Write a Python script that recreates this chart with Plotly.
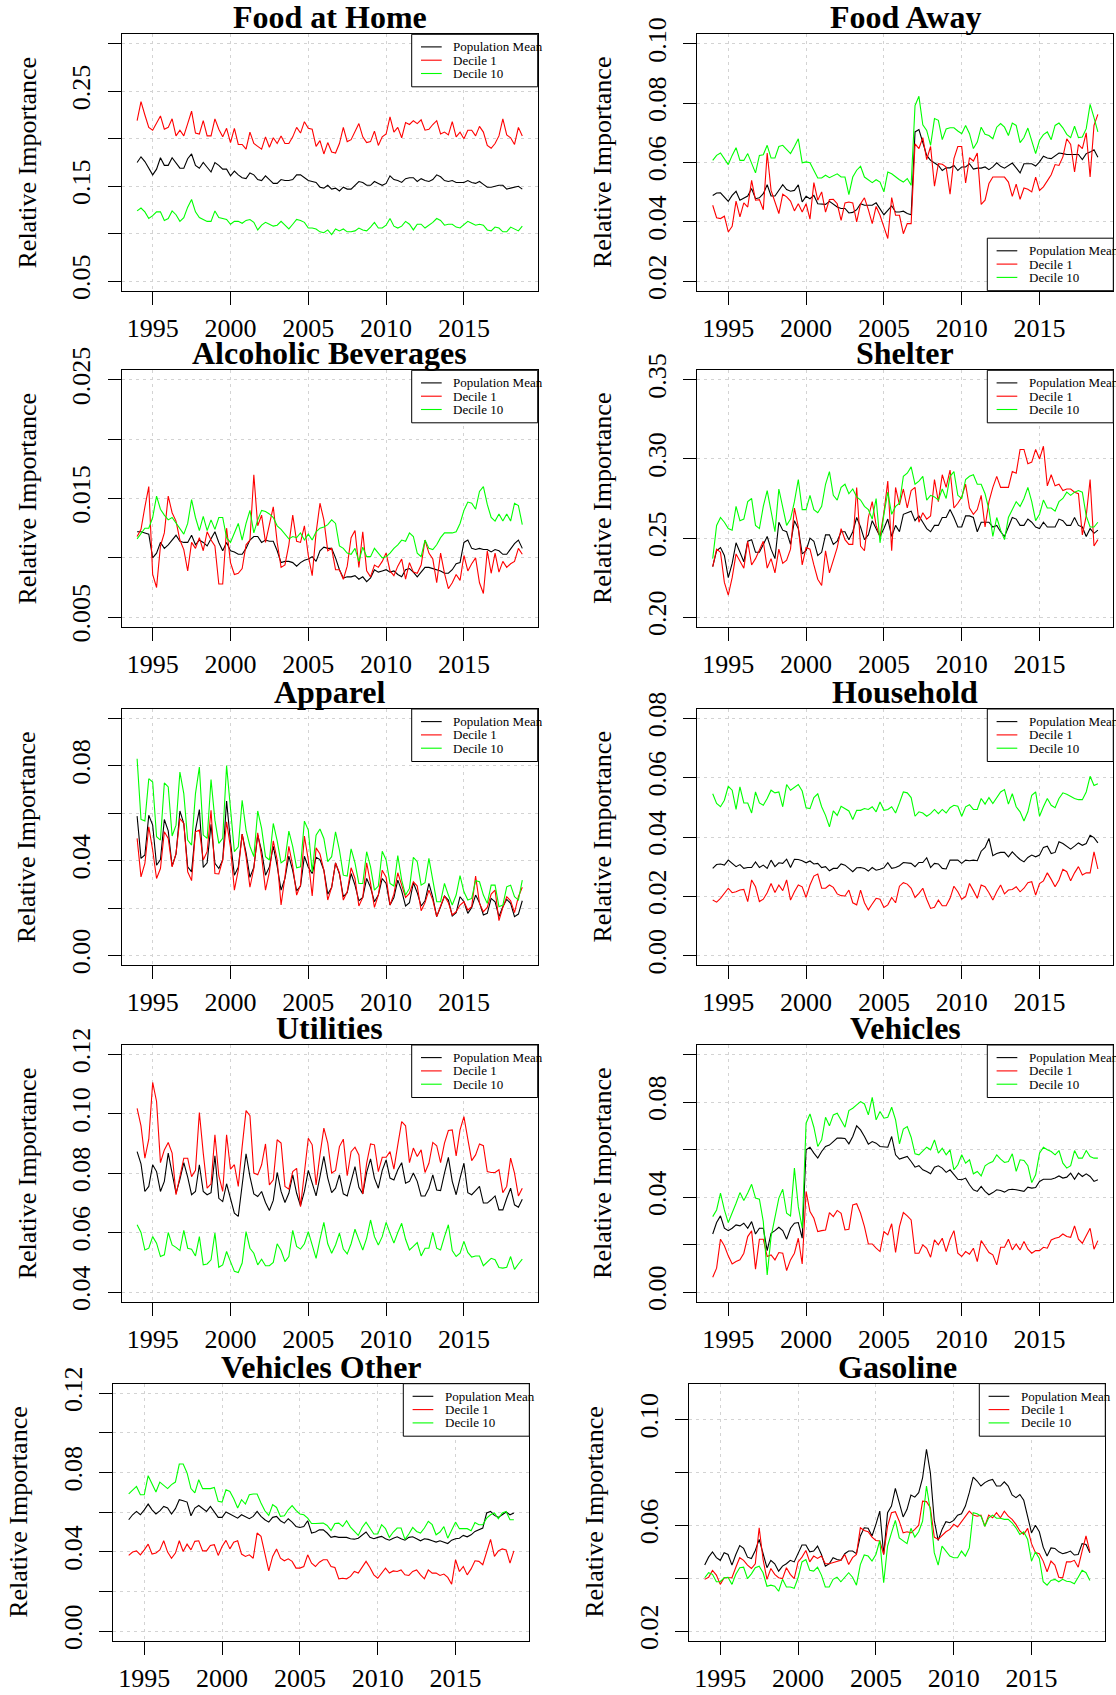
import plotly.graph_objects as go

# ---------------- data (quarterly, 1994Q1 .. 2018Q4) ----------------
years = list(range(1994, 2019))
quarters = [y + q / 4 for y in years for q in range(4)]
series_names = ["Population Mean", "Decile 1", "Decile 10"]
x_tick_years = [1995, 2000, 2005, 2010, 2015]

food_home_mean = [0.175,0.181,0.176,0.169,0.162,0.168,0.180,0.172,0.172,0.180, 0.174,0.169,0.169,0.179,0.184,0.172,0.169,0.175,0.170,0.165, 0.175,0.172,0.168,0.168,0.161,0.166,0.162,0.159,0.158,0.164, 0.162,0.157,0.156,0.161,0.157,0.153,0.153,0.157,0.156,0.156, 0.157,0.162,0.162,0.159,0.156,0.155,0.154,0.149,0.148,0.151, 0.147,0.148,0.145,0.149,0.147,0.147,0.151,0.155,0.154,0.151, 0.151,0.155,0.153,0.151,0.153,0.161,0.157,0.156,0.154,0.158, 0.159,0.159,0.155,0.158,0.156,0.155,0.157,0.162,0.160,0.156, 0.155,0.156,0.154,0.154,0.154,0.156,0.154,0.153,0.155,0.152, 0.149,0.149,0.150,0.151,0.151,0.147,0.148,0.149,0.150,0.147]
food_home_d1 = [0.219,0.239,0.225,0.212,0.209,0.217,0.224,0.210,0.212,0.221, 0.203,0.209,0.203,0.216,0.229,0.206,0.205,0.219,0.203,0.203, 0.221,0.210,0.202,0.211,0.196,0.211,0.194,0.194,0.189,0.207, 0.195,0.192,0.189,0.202,0.191,0.201,0.195,0.203,0.195,0.195, 0.202,0.212,0.206,0.218,0.211,0.210,0.192,0.198,0.184,0.196, 0.186,0.185,0.195,0.212,0.197,0.199,0.207,0.216,0.202,0.196, 0.197,0.208,0.193,0.202,0.205,0.223,0.207,0.212,0.201,0.217, 0.215,0.219,0.216,0.220,0.209,0.210,0.215,0.219,0.205,0.207, 0.204,0.218,0.202,0.207,0.200,0.209,0.209,0.203,0.213,0.207, 0.193,0.190,0.195,0.203,0.221,0.204,0.201,0.194,0.212,0.203]
food_home_d10 = [0.124,0.127,0.123,0.116,0.119,0.123,0.123,0.114,0.116,0.124, 0.120,0.113,0.117,0.128,0.136,0.123,0.117,0.115,0.113,0.113, 0.124,0.117,0.116,0.115,0.110,0.113,0.113,0.111,0.114,0.115, 0.112,0.104,0.109,0.112,0.110,0.108,0.109,0.113,0.109,0.105, 0.110,0.115,0.114,0.112,0.106,0.106,0.105,0.102,0.101,0.104, 0.099,0.105,0.103,0.105,0.102,0.102,0.103,0.106,0.104,0.103, 0.107,0.112,0.106,0.106,0.109,0.116,0.108,0.106,0.108,0.113, 0.110,0.104,0.110,0.110,0.106,0.109,0.112,0.116,0.114,0.109, 0.110,0.110,0.107,0.106,0.110,0.113,0.111,0.109,0.110,0.109, 0.104,0.103,0.107,0.106,0.102,0.102,0.107,0.105,0.103,0.108]

food_away_mean = [0.0489,0.0497,0.0498,0.0484,0.0469,0.0489,0.0503,0.0473,0.0481,0.0487, 0.0512,0.0478,0.0481,0.0495,0.0525,0.0487,0.0487,0.0504,0.0525,0.0509, 0.0503,0.0506,0.0525,0.0467,0.0486,0.0478,0.0489,0.0461,0.0459,0.0459, 0.0469,0.0458,0.0450,0.0445,0.0445,0.0430,0.0432,0.0441,0.0461,0.0456, 0.0456,0.0456,0.0464,0.0445,0.0424,0.0439,0.0454,0.0433,0.0433,0.0436, 0.0428,0.0424,0.0703,0.0711,0.0663,0.0624,0.0607,0.0598,0.0590,0.0573, 0.0582,0.0582,0.0590,0.0573,0.0585,0.0585,0.0596,0.0578,0.0581,0.0581, 0.0585,0.0576,0.0585,0.0599,0.0587,0.0581,0.0590,0.0598,0.0582,0.0565, 0.0596,0.0596,0.0596,0.0588,0.0602,0.0621,0.0615,0.0613,0.0624,0.0632, 0.0630,0.0627,0.0627,0.0627,0.0627,0.0610,0.0630,0.0635,0.0643,0.0618]
food_away_d1 = [0.0456,0.0414,0.0411,0.0419,0.0366,0.0385,0.0470,0.0417,0.0464,0.0450, 0.0540,0.0473,0.0475,0.0441,0.0632,0.0506,0.0467,0.0428,0.0493,0.0484, 0.0470,0.0437,0.0461,0.0433,0.0461,0.0409,0.0532,0.0473,0.0501,0.0433, 0.0475,0.0476,0.0461,0.0405,0.0464,0.0467,0.0464,0.0400,0.0461,0.0481, 0.0441,0.0394,0.0452,0.0422,0.0383,0.0344,0.0482,0.0422,0.0422,0.0360, 0.0394,0.0394,0.0663,0.0647,0.0684,0.0610,0.0654,0.0520,0.0596,0.0594, 0.0585,0.0493,0.0613,0.0654,0.0654,0.0531,0.0616,0.0605,0.0632,0.0459, 0.0473,0.0529,0.0551,0.0551,0.0551,0.0551,0.0534,0.0486,0.0527,0.0476, 0.0514,0.0510,0.0501,0.0551,0.0506,0.0518,0.0538,0.0559,0.0593,0.0590, 0.0619,0.0680,0.0661,0.0568,0.0660,0.0647,0.0700,0.0551,0.0725,0.0762]
food_away_d10 = [0.0607,0.0624,0.0632,0.0613,0.0593,0.0624,0.0650,0.0607,0.0607,0.0630, 0.0596,0.0565,0.0624,0.0626,0.0658,0.0615,0.0615,0.0654,0.0658,0.0644, 0.0630,0.0654,0.0680,0.0599,0.0602,0.0599,0.0574,0.0548,0.0548,0.0557, 0.0549,0.0555,0.0562,0.0551,0.0551,0.0492,0.0551,0.0574,0.0587,0.0551, 0.0540,0.0532,0.0542,0.0534,0.0501,0.0568,0.0562,0.0551,0.0542,0.0534, 0.0546,0.0523,0.0792,0.0823,0.0727,0.0708,0.0658,0.0748,0.0742,0.0677, 0.0713,0.0717,0.0717,0.0706,0.0697,0.0725,0.0697,0.0647,0.0669,0.0719, 0.0695,0.0691,0.0680,0.0719,0.0731,0.0719,0.0691,0.0733,0.0725,0.0667, 0.0684,0.0716,0.0669,0.0630,0.0675,0.0694,0.0703,0.0677,0.0725,0.0733, 0.0717,0.0695,0.0684,0.0722,0.0684,0.0686,0.0714,0.0796,0.0751,0.0703]

alcohol_mean = [0.0122,0.0122,0.0121,0.0120,0.0100,0.0104,0.0113,0.0108,0.0111,0.0115, 0.0119,0.0114,0.0113,0.0113,0.0119,0.0111,0.0115,0.0113,0.0110,0.0116, 0.0122,0.0113,0.0106,0.0113,0.0106,0.0105,0.0103,0.0103,0.0108,0.0115, 0.0118,0.0118,0.0113,0.0115,0.0114,0.0114,0.0106,0.0096,0.0097,0.0097, 0.0096,0.0093,0.0096,0.0098,0.0099,0.0101,0.0097,0.0106,0.0109,0.0108, 0.0108,0.0100,0.0090,0.0083,0.0084,0.0084,0.0085,0.0082,0.0084,0.0080, 0.0083,0.0090,0.0088,0.0089,0.0090,0.0088,0.0089,0.0086,0.0084,0.0090, 0.0091,0.0088,0.0084,0.0088,0.0092,0.0092,0.0091,0.0090,0.0089,0.0087, 0.0087,0.0090,0.0095,0.0096,0.0113,0.0115,0.0108,0.0107,0.0108,0.0107, 0.0107,0.0105,0.0107,0.0106,0.0103,0.0103,0.0107,0.0112,0.0115,0.0108]
alcohol_d1 = [0.0118,0.0124,0.0143,0.0160,0.0086,0.0075,0.0110,0.0121,0.0152,0.0138, 0.0131,0.0115,0.0107,0.0089,0.0113,0.0108,0.0117,0.0106,0.0122,0.0115, 0.0110,0.0078,0.0078,0.0125,0.0096,0.0086,0.0087,0.0091,0.0111,0.0115, 0.0170,0.0127,0.0136,0.0113,0.0128,0.0143,0.0113,0.0092,0.0094,0.0111, 0.0136,0.0114,0.0113,0.0127,0.0102,0.0085,0.0121,0.0146,0.0132,0.0106, 0.0108,0.0090,0.0090,0.0082,0.0093,0.0117,0.0123,0.0092,0.0122,0.0089, 0.0084,0.0094,0.0092,0.0097,0.0104,0.0089,0.0085,0.0093,0.0099,0.0082, 0.0096,0.0088,0.0087,0.0094,0.0115,0.0104,0.0099,0.0079,0.0104,0.0087, 0.0074,0.0079,0.0086,0.0081,0.0102,0.0089,0.0095,0.0100,0.0079,0.0070, 0.0106,0.0087,0.0104,0.0088,0.0097,0.0092,0.0095,0.0097,0.0108,0.0103]
alcohol_d10 = [0.0116,0.0121,0.0125,0.0125,0.0134,0.0152,0.0141,0.0136,0.0132,0.0134, 0.0129,0.0124,0.0120,0.0129,0.0149,0.0134,0.0123,0.0135,0.0123,0.0132, 0.0124,0.0134,0.0134,0.0117,0.0113,0.0121,0.0129,0.0115,0.0129,0.0140, 0.0121,0.0132,0.0140,0.0139,0.0137,0.0134,0.0127,0.0124,0.0120,0.0116, 0.0118,0.0117,0.0121,0.0115,0.0120,0.0115,0.0122,0.0125,0.0126,0.0128, 0.0132,0.0129,0.0110,0.0108,0.0104,0.0103,0.0108,0.0097,0.0109,0.0101, 0.0101,0.0108,0.0104,0.0100,0.0101,0.0104,0.0108,0.0111,0.0115,0.0114, 0.0121,0.0118,0.0104,0.0101,0.0115,0.0108,0.0107,0.0111,0.0117,0.0121, 0.0121,0.0121,0.0122,0.0129,0.0140,0.0147,0.0146,0.0141,0.0156,0.0160, 0.0145,0.0134,0.0131,0.0137,0.0131,0.0137,0.0131,0.0146,0.0144,0.0128]

shelter_mean = [0.232,0.242,0.244,0.239,0.225,0.234,0.247,0.241,0.235,0.248, 0.249,0.241,0.241,0.246,0.251,0.243,0.237,0.260,0.255,0.254, 0.246,0.261,0.256,0.240,0.242,0.250,0.248,0.239,0.241,0.252, 0.252,0.246,0.248,0.254,0.254,0.249,0.254,0.263,0.257,0.249, 0.252,0.261,0.256,0.251,0.256,0.262,0.251,0.258,0.254,0.265, 0.266,0.267,0.261,0.264,0.260,0.256,0.254,0.258,0.258,0.263, 0.263,0.268,0.263,0.257,0.257,0.264,0.264,0.263,0.254,0.260, 0.260,0.260,0.257,0.258,0.254,0.251,0.257,0.263,0.262,0.258, 0.258,0.262,0.260,0.257,0.256,0.260,0.257,0.257,0.257,0.262, 0.261,0.258,0.258,0.263,0.258,0.257,0.251,0.256,0.253,0.255]
shelter_d1 = [0.232,0.243,0.241,0.222,0.214,0.225,0.240,0.235,0.231,0.248, 0.233,0.237,0.242,0.248,0.231,0.237,0.228,0.243,0.234,0.236, 0.243,0.269,0.257,0.233,0.244,0.243,0.233,0.224,0.220,0.242, 0.228,0.236,0.244,0.256,0.249,0.246,0.246,0.282,0.245,0.242, 0.263,0.273,0.258,0.251,0.266,0.286,0.242,0.282,0.271,0.281, 0.269,0.280,0.282,0.260,0.266,0.262,0.264,0.287,0.273,0.290, 0.282,0.293,0.269,0.272,0.276,0.284,0.269,0.265,0.268,0.277, 0.257,0.273,0.282,0.289,0.282,0.282,0.282,0.292,0.291,0.306, 0.306,0.297,0.298,0.306,0.300,0.308,0.283,0.290,0.283,0.284, 0.280,0.281,0.281,0.279,0.278,0.252,0.264,0.287,0.245,0.249]
shelter_d10 = [0.237,0.258,0.263,0.260,0.256,0.255,0.270,0.261,0.262,0.273, 0.275,0.258,0.256,0.270,0.280,0.267,0.254,0.281,0.269,0.258, 0.262,0.273,0.287,0.268,0.268,0.277,0.268,0.266,0.270,0.284, 0.292,0.277,0.274,0.282,0.284,0.278,0.281,0.276,0.274,0.270, 0.268,0.262,0.275,0.247,0.265,0.279,0.265,0.270,0.272,0.289, 0.291,0.295,0.284,0.286,0.289,0.274,0.277,0.276,0.274,0.281, 0.275,0.289,0.292,0.277,0.275,0.287,0.289,0.290,0.284,0.284, 0.278,0.268,0.251,0.263,0.255,0.249,0.263,0.268,0.273,0.270, 0.275,0.282,0.273,0.261,0.265,0.274,0.269,0.269,0.267,0.273, 0.275,0.279,0.277,0.279,0.280,0.279,0.264,0.257,0.257,0.260]

apparel_mean = [0.0588,0.0410,0.0424,0.0592,0.0550,0.0381,0.0405,0.0574,0.0526,0.0377, 0.0428,0.0610,0.0557,0.0374,0.0353,0.0529,0.0616,0.0372,0.0391,0.0554, 0.0389,0.0367,0.0403,0.0652,0.0480,0.0339,0.0372,0.0512,0.0433,0.0330, 0.0372,0.0508,0.0442,0.0339,0.0374,0.0461,0.0377,0.0276,0.0325,0.0419, 0.0358,0.0273,0.0293,0.0419,0.0372,0.0346,0.0414,0.0405,0.0360,0.0259, 0.0287,0.0391,0.0344,0.0248,0.0265,0.0346,0.0297,0.0231,0.0245,0.0325, 0.0287,0.0227,0.0255,0.0325,0.0304,0.0213,0.0245,0.0318,0.0273,0.0209, 0.0223,0.0307,0.0265,0.0209,0.0231,0.0304,0.0245,0.0164,0.0206,0.0251, 0.0234,0.0167,0.0181,0.0248,0.0227,0.0178,0.0203,0.0255,0.0223,0.0171, 0.0178,0.0241,0.0227,0.0164,0.0206,0.0237,0.0220,0.0164,0.0175,0.0231]
apparel_d1 = [0.0494,0.0332,0.0389,0.0543,0.0445,0.0325,0.0367,0.0522,0.0494,0.0374, 0.0431,0.0578,0.0557,0.0353,0.0316,0.0522,0.0529,0.0403,0.0438,0.0613, 0.0346,0.0344,0.0403,0.0564,0.0456,0.0276,0.0360,0.0512,0.0417,0.0288, 0.0367,0.0518,0.0417,0.0276,0.0353,0.0484,0.0403,0.0213,0.0332,0.0461, 0.0377,0.0255,0.0297,0.0504,0.0403,0.0251,0.0454,0.0428,0.0360,0.0234, 0.0288,0.0391,0.0349,0.0234,0.0269,0.0370,0.0325,0.0209,0.0245,0.0391, 0.0304,0.0203,0.0255,0.0360,0.0330,0.0213,0.0259,0.0349,0.0297,0.0245, 0.0262,0.0311,0.0293,0.0189,0.0223,0.0276,0.0234,0.0164,0.0209,0.0251, 0.0223,0.0171,0.0185,0.0213,0.0227,0.0192,0.0206,0.0335,0.0220,0.0185, 0.0203,0.0259,0.0276,0.0147,0.0203,0.0248,0.0231,0.0181,0.0248,0.0288]
apparel_d10 = [0.0830,0.0574,0.0568,0.0746,0.0732,0.0501,0.0487,0.0728,0.0711,0.0504, 0.0550,0.0774,0.0683,0.0487,0.0466,0.0683,0.0795,0.0508,0.0494,0.0742, 0.0571,0.0473,0.0494,0.0801,0.0620,0.0438,0.0459,0.0655,0.0529,0.0461, 0.0417,0.0610,0.0536,0.0417,0.0403,0.0557,0.0484,0.0391,0.0403,0.0525, 0.0459,0.0370,0.0374,0.0567,0.0529,0.0353,0.0508,0.0534,0.0494,0.0396, 0.0417,0.0522,0.0445,0.0339,0.0335,0.0450,0.0391,0.0304,0.0304,0.0438, 0.0374,0.0276,0.0293,0.0440,0.0403,0.0304,0.0293,0.0422,0.0318,0.0255, 0.0283,0.0414,0.0396,0.0297,0.0307,0.0410,0.0318,0.0227,0.0227,0.0304, 0.0255,0.0213,0.0255,0.0337,0.0269,0.0234,0.0241,0.0316,0.0311,0.0255, 0.0220,0.0297,0.0297,0.0206,0.0213,0.0290,0.0297,0.0248,0.0234,0.0318]

household_mean = [0.0294,0.0307,0.0309,0.0305,0.0322,0.0311,0.0300,0.0307,0.0294,0.0297, 0.0297,0.0316,0.0297,0.0305,0.0294,0.0322,0.0300,0.0313,0.0311,0.0325, 0.0297,0.0325,0.0324,0.0320,0.0313,0.0319,0.0309,0.0311,0.0297,0.0300, 0.0286,0.0294,0.0294,0.0309,0.0305,0.0294,0.0283,0.0296,0.0297,0.0294, 0.0285,0.0297,0.0288,0.0291,0.0296,0.0313,0.0294,0.0297,0.0303,0.0314, 0.0313,0.0311,0.0300,0.0314,0.0314,0.0330,0.0297,0.0311,0.0309,0.0294, 0.0292,0.0322,0.0322,0.0322,0.0311,0.0322,0.0320,0.0322,0.0320,0.0352, 0.0365,0.0395,0.0337,0.0344,0.0348,0.0348,0.0333,0.0350,0.0336,0.0324, 0.0316,0.0331,0.0339,0.0333,0.0339,0.0365,0.0369,0.0344,0.0348,0.0384, 0.0378,0.0369,0.0359,0.0369,0.0380,0.0372,0.0378,0.0406,0.0398,0.0380]
household_d1 = [0.0187,0.0180,0.0193,0.0212,0.0227,0.0212,0.0215,0.0221,0.0223,0.0182, 0.0255,0.0232,0.0182,0.0190,0.0212,0.0243,0.0213,0.0238,0.0219,0.0255, 0.0187,0.0215,0.0238,0.0232,0.0196,0.0238,0.0268,0.0275,0.0227,0.0227, 0.0238,0.0230,0.0208,0.0202,0.0201,0.0221,0.0178,0.0171,0.0221,0.0178, 0.0154,0.0174,0.0193,0.0190,0.0162,0.0171,0.0196,0.0178,0.0234,0.0246, 0.0241,0.0227,0.0196,0.0210,0.0227,0.0190,0.0159,0.0163,0.0187,0.0168, 0.0168,0.0193,0.0234,0.0215,0.0190,0.0199,0.0243,0.0219,0.0193,0.0238, 0.0232,0.0212,0.0187,0.0215,0.0238,0.0208,0.0221,0.0223,0.0232,0.0215, 0.0227,0.0246,0.0249,0.0204,0.0243,0.0252,0.0279,0.0257,0.0232,0.0255, 0.0291,0.0283,0.0252,0.0279,0.0300,0.0272,0.0279,0.0279,0.0350,0.0292]
household_d10 = [0.0546,0.0513,0.0502,0.0524,0.0571,0.0558,0.0493,0.0569,0.0515,0.0515, 0.0481,0.0552,0.0515,0.0507,0.0530,0.0558,0.0549,0.0552,0.0502,0.0577, 0.0558,0.0567,0.0577,0.0555,0.0499,0.0496,0.0533,0.0546,0.0502,0.0473, 0.0434,0.0488,0.0473,0.0504,0.0496,0.0488,0.0459,0.0490,0.0490,0.0496, 0.0493,0.0502,0.0485,0.0518,0.0490,0.0493,0.0502,0.0481,0.0515,0.0552, 0.0549,0.0533,0.0470,0.0485,0.0481,0.0470,0.0479,0.0493,0.0479,0.0493, 0.0481,0.0499,0.0507,0.0504,0.0470,0.0502,0.0509,0.0493,0.0493,0.0530, 0.0511,0.0533,0.0513,0.0533,0.0552,0.0560,0.0511,0.0546,0.0502,0.0485, 0.0454,0.0485,0.0541,0.0552,0.0470,0.0502,0.0530,0.0507,0.0499,0.0530, 0.0549,0.0544,0.0537,0.0530,0.0526,0.0526,0.0552,0.0605,0.0574,0.0580]

utilities_mean = [0.0873,0.0832,0.0739,0.0756,0.0829,0.0806,0.0739,0.0773,0.0868,0.0801, 0.0733,0.0780,0.0836,0.0787,0.0728,0.0739,0.0829,0.0739,0.0728,0.0735, 0.0859,0.0716,0.0705,0.0765,0.0713,0.0666,0.0655,0.0756,0.0866,0.0789, 0.0731,0.0722,0.0739,0.0702,0.0675,0.0709,0.0803,0.0739,0.0702,0.0733, 0.0795,0.0733,0.0691,0.0739,0.0810,0.0767,0.0724,0.0789,0.0857,0.0784, 0.0735,0.0750,0.0795,0.0731,0.0724,0.0773,0.0823,0.0753,0.0731,0.0803, 0.0849,0.0784,0.0750,0.0810,0.0845,0.0784,0.0778,0.0812,0.0836,0.0767, 0.0773,0.0801,0.0773,0.0724,0.0724,0.0750,0.0795,0.0744,0.0742,0.0801, 0.0854,0.0773,0.0728,0.0784,0.0834,0.0735,0.0728,0.0742,0.0756,0.0700, 0.0700,0.0711,0.0724,0.0677,0.0677,0.0716,0.0750,0.0694,0.0686,0.0713]
utilities_d1 = [0.1019,0.0960,0.0851,0.0915,0.1106,0.1042,0.0836,0.0879,0.0904,0.0868, 0.0728,0.0792,0.0851,0.0851,0.0789,0.0810,0.1005,0.0868,0.0750,0.0765, 0.0930,0.0792,0.0739,0.0930,0.0814,0.0829,0.0756,0.0890,0.1011,0.0994, 0.0801,0.0795,0.0829,0.0899,0.0761,0.0778,0.0913,0.0902,0.0756,0.0747, 0.0806,0.0817,0.0688,0.0803,0.0918,0.0896,0.0761,0.0862,0.0952,0.0902, 0.0801,0.0810,0.0890,0.0915,0.0792,0.0873,0.0888,0.0862,0.0731,0.0834, 0.0899,0.0896,0.0806,0.0854,0.0854,0.0873,0.0814,0.0896,0.0974,0.0960, 0.0836,0.0885,0.0857,0.0879,0.0803,0.0834,0.0904,0.0893,0.0836,0.0902, 0.0944,0.0946,0.0859,0.0946,0.0991,0.0915,0.0843,0.0862,0.0899,0.0893, 0.0806,0.0803,0.0803,0.0812,0.0735,0.0756,0.0851,0.0801,0.0724,0.0750]
utilities_d10 = [0.0627,0.0601,0.0542,0.0548,0.0587,0.0565,0.0520,0.0526,0.0601,0.0559, 0.0551,0.0540,0.0608,0.0548,0.0545,0.0522,0.0587,0.0492,0.0495,0.0509, 0.0599,0.0484,0.0492,0.0537,0.0503,0.0470,0.0466,0.0498,0.0604,0.0548, 0.0531,0.0492,0.0511,0.0489,0.0489,0.0500,0.0563,0.0540,0.0503,0.0520, 0.0608,0.0554,0.0545,0.0563,0.0604,0.0559,0.0514,0.0578,0.0635,0.0563, 0.0531,0.0559,0.0599,0.0545,0.0529,0.0563,0.0612,0.0576,0.0542,0.0582, 0.0643,0.0587,0.0559,0.0587,0.0635,0.0599,0.0565,0.0601,0.0632,0.0578, 0.0542,0.0554,0.0567,0.0522,0.0548,0.0548,0.0601,0.0548,0.0542,0.0587, 0.0627,0.0540,0.0520,0.0531,0.0571,0.0534,0.0518,0.0522,0.0522,0.0489, 0.0503,0.0514,0.0509,0.0483,0.0481,0.0484,0.0520,0.0477,0.0495,0.0511]

vehicles_mean = [0.0245,0.0293,0.0321,0.0269,0.0259,0.0269,0.0283,0.0279,0.0290,0.0269, 0.0297,0.0245,0.0269,0.0269,0.0175,0.0248,0.0259,0.0273,0.0259,0.0223, 0.0269,0.0290,0.0293,0.0227,0.0599,0.0610,0.0585,0.0564,0.0592,0.0613, 0.0619,0.0633,0.0648,0.0648,0.0647,0.0624,0.0655,0.0700,0.0683,0.0655, 0.0623,0.0634,0.0627,0.0613,0.0613,0.0610,0.0655,0.0578,0.0560,0.0564, 0.0571,0.0550,0.0526,0.0532,0.0515,0.0508,0.0498,0.0526,0.0532,0.0522, 0.0504,0.0515,0.0494,0.0475,0.0473,0.0480,0.0452,0.0431,0.0424,0.0445, 0.0424,0.0410,0.0419,0.0431,0.0428,0.0421,0.0431,0.0433,0.0431,0.0428, 0.0424,0.0442,0.0438,0.0440,0.0466,0.0475,0.0475,0.0475,0.0480,0.0489, 0.0480,0.0484,0.0501,0.0475,0.0501,0.0487,0.0498,0.0487,0.0466,0.0473]
vehicles_d1 = [0.0063,0.0101,0.0223,0.0195,0.0153,0.0119,0.0129,0.0136,0.0164,0.0234, 0.0258,0.0097,0.0223,0.0223,0.0150,0.0157,0.0136,0.0167,0.0164,0.0091, 0.0136,0.0164,0.0227,0.0119,0.0424,0.0339,0.0311,0.0255,0.0259,0.0262, 0.0335,0.0318,0.0344,0.0332,0.0262,0.0265,0.0367,0.0372,0.0332,0.0276, 0.0203,0.0203,0.0185,0.0171,0.0255,0.0241,0.0288,0.0167,0.0276,0.0335, 0.0321,0.0304,0.0164,0.0164,0.0199,0.0185,0.0147,0.0220,0.0199,0.0227, 0.0171,0.0223,0.0259,0.0164,0.0150,0.0171,0.0160,0.0185,0.0129,0.0217, 0.0192,0.0167,0.0157,0.0115,0.0189,0.0189,0.0223,0.0178,0.0203,0.0178, 0.0213,0.0181,0.0164,0.0175,0.0175,0.0189,0.0185,0.0220,0.0227,0.0231, 0.0245,0.0234,0.0231,0.0279,0.0223,0.0206,0.0237,0.0269,0.0181,0.0217]
vehicles_d10 = [0.0318,0.0346,0.0417,0.0346,0.0293,0.0330,0.0374,0.0419,0.0386,0.0417, 0.0454,0.0396,0.0391,0.0297,0.0073,0.0234,0.0318,0.0396,0.0433,0.0332, 0.0321,0.0522,0.0360,0.0269,0.0711,0.0750,0.0694,0.0613,0.0641,0.0736, 0.0700,0.0746,0.0753,0.0725,0.0694,0.0764,0.0774,0.0788,0.0802,0.0792, 0.0746,0.0820,0.0725,0.0760,0.0732,0.0736,0.0778,0.0725,0.0624,0.0686, 0.0697,0.0652,0.0582,0.0578,0.0596,0.0610,0.0599,0.0641,0.0585,0.0606, 0.0578,0.0599,0.0515,0.0536,0.0578,0.0543,0.0557,0.0498,0.0508,0.0489, 0.0532,0.0543,0.0550,0.0578,0.0560,0.0546,0.0550,0.0582,0.0508,0.0557, 0.0554,0.0532,0.0461,0.0494,0.0585,0.0610,0.0599,0.0592,0.0578,0.0596, 0.0543,0.0522,0.0532,0.0596,0.0564,0.0564,0.0596,0.0571,0.0564,0.0564]

veh_other_mean = [0.0562,0.0587,0.0604,0.0587,0.0612,0.0641,0.0612,0.0591,0.0607,0.0629, 0.0621,0.0591,0.0618,0.0663,0.0658,0.0651,0.0582,0.0621,0.0634,0.0618, 0.0604,0.0629,0.0604,0.0574,0.0574,0.0601,0.0591,0.0579,0.0570,0.0587, 0.0579,0.0567,0.0579,0.0604,0.0579,0.0562,0.0550,0.0574,0.0579,0.0557, 0.0545,0.0567,0.0550,0.0528,0.0523,0.0528,0.0557,0.0495,0.0500,0.0511, 0.0511,0.0495,0.0473,0.0478,0.0473,0.0473,0.0473,0.0466,0.0464,0.0469, 0.0483,0.0500,0.0473,0.0466,0.0473,0.0478,0.0466,0.0459,0.0469,0.0476, 0.0466,0.0459,0.0473,0.0476,0.0466,0.0456,0.0466,0.0463,0.0456,0.0449, 0.0456,0.0449,0.0442,0.0459,0.0466,0.0469,0.0483,0.0476,0.0486,0.0503, 0.0510,0.0520,0.0596,0.0604,0.0584,0.0574,0.0587,0.0601,0.0587,0.0596]
veh_other_d1 = [0.0382,0.0399,0.0405,0.0385,0.0410,0.0439,0.0389,0.0394,0.0410,0.0456, 0.0399,0.0368,0.0394,0.0456,0.0402,0.0439,0.0410,0.0453,0.0456,0.0405, 0.0405,0.0432,0.0436,0.0382,0.0427,0.0458,0.0415,0.0449,0.0456,0.0389, 0.0377,0.0385,0.0368,0.0495,0.0478,0.0394,0.0304,0.0377,0.0415,0.0368, 0.0355,0.0365,0.0352,0.0318,0.0318,0.0326,0.0385,0.0343,0.0326,0.0348, 0.0360,0.0360,0.0326,0.0321,0.0264,0.0267,0.0264,0.0276,0.0301,0.0293, 0.0326,0.0352,0.0321,0.0284,0.0267,0.0293,0.0318,0.0293,0.0304,0.0301, 0.0309,0.0284,0.0281,0.0301,0.0309,0.0284,0.0264,0.0309,0.0293,0.0293, 0.0281,0.0288,0.0271,0.0237,0.0360,0.0301,0.0326,0.0284,0.0314,0.0355, 0.0352,0.0335,0.0394,0.0463,0.0377,0.0405,0.0415,0.0410,0.0343,0.0405]
veh_other_d10 = [0.0692,0.0713,0.0730,0.0688,0.0688,0.0784,0.0742,0.0702,0.0752,0.0735, 0.0719,0.0739,0.0752,0.0843,0.0843,0.0798,0.0719,0.0697,0.0764,0.0719, 0.0719,0.0719,0.0725,0.0655,0.0651,0.0713,0.0705,0.0668,0.0621,0.0663, 0.0641,0.0688,0.0692,0.0692,0.0646,0.0607,0.0584,0.0638,0.0624,0.0579, 0.0582,0.0612,0.0633,0.0609,0.0591,0.0587,0.0570,0.0543,0.0543,0.0543, 0.0545,0.0533,0.0508,0.0543,0.0545,0.0528,0.0557,0.0525,0.0506,0.0483, 0.0523,0.0550,0.0520,0.0490,0.0490,0.0537,0.0517,0.0473,0.0500,0.0520, 0.0520,0.0463,0.0490,0.0523,0.0503,0.0495,0.0520,0.0554,0.0537,0.0486, 0.0500,0.0527,0.0469,0.0511,0.0550,0.0517,0.0517,0.0517,0.0506,0.0548, 0.0537,0.0537,0.0570,0.0587,0.0596,0.0567,0.0596,0.0604,0.0562,0.0562]

gasoline_mean = [0.0450,0.0480,0.0500,0.0478,0.0468,0.0497,0.0490,0.0450,0.0490,0.0524, 0.0513,0.0480,0.0475,0.0505,0.0547,0.0490,0.0440,0.0468,0.0455,0.0427, 0.0446,0.0455,0.0468,0.0462,0.0497,0.0526,0.0526,0.0500,0.0503,0.0522, 0.0490,0.0446,0.0455,0.0478,0.0471,0.0468,0.0493,0.0503,0.0503,0.0493, 0.0560,0.0591,0.0589,0.0560,0.0604,0.0654,0.0490,0.0648,0.0673,0.0740, 0.0686,0.0632,0.0661,0.0715,0.0707,0.0724,0.0780,0.0888,0.0799,0.0619, 0.0543,0.0585,0.0614,0.0610,0.0619,0.0639,0.0644,0.0673,0.0724,0.0783, 0.0768,0.0749,0.0762,0.0770,0.0774,0.0749,0.0749,0.0765,0.0749,0.0715, 0.0705,0.0717,0.0695,0.0629,0.0572,0.0601,0.0576,0.0518,0.0484,0.0515, 0.0513,0.0500,0.0493,0.0497,0.0503,0.0488,0.0490,0.0531,0.0528,0.0497]
gasoline_d1 = [0.0396,0.0404,0.0430,0.0412,0.0377,0.0402,0.0402,0.0402,0.0442,0.0478, 0.0468,0.0450,0.0437,0.0455,0.0591,0.0471,0.0396,0.0437,0.0415,0.0402, 0.0399,0.0440,0.0415,0.0399,0.0462,0.0480,0.0505,0.0462,0.0484,0.0475, 0.0484,0.0455,0.0455,0.0459,0.0462,0.0468,0.0490,0.0452,0.0478,0.0490, 0.0591,0.0581,0.0576,0.0556,0.0543,0.0541,0.0490,0.0597,0.0648,0.0652, 0.0616,0.0572,0.0576,0.0572,0.0585,0.0601,0.0692,0.0690,0.0667,0.0556, 0.0547,0.0563,0.0576,0.0585,0.0604,0.0594,0.0614,0.0635,0.0654,0.0639, 0.0635,0.0639,0.0597,0.0639,0.0629,0.0648,0.0629,0.0654,0.0635,0.0623, 0.0604,0.0579,0.0566,0.0589,0.0531,0.0497,0.0493,0.0465,0.0425,0.0465, 0.0450,0.0404,0.0402,0.0462,0.0462,0.0468,0.0442,0.0503,0.0560,0.0500]
gasoline_d10 = [0.0402,0.0421,0.0415,0.0387,0.0387,0.0402,0.0404,0.0377,0.0415,0.0440, 0.0442,0.0399,0.0417,0.0440,0.0446,0.0421,0.0370,0.0374,0.0370,0.0351, 0.0396,0.0367,0.0367,0.0362,0.0402,0.0462,0.0471,0.0430,0.0427,0.0442, 0.0412,0.0367,0.0367,0.0396,0.0404,0.0387,0.0404,0.0421,0.0404,0.0374, 0.0452,0.0488,0.0484,0.0465,0.0490,0.0543,0.0383,0.0522,0.0572,0.0619, 0.0553,0.0543,0.0531,0.0589,0.0556,0.0576,0.0616,0.0749,0.0654,0.0497, 0.0450,0.0522,0.0503,0.0484,0.0478,0.0478,0.0503,0.0484,0.0515,0.0648, 0.0644,0.0635,0.0597,0.0629,0.0639,0.0627,0.0627,0.0623,0.0623,0.0610, 0.0591,0.0566,0.0576,0.0547,0.0465,0.0500,0.0475,0.0387,0.0374,0.0392, 0.0396,0.0387,0.0396,0.0389,0.0387,0.0379,0.0404,0.0430,0.0421,0.0392]

# panel: title, series, y tick values, y tick labels, y range, legend corner
panels = [
    ("Food at Home", (food_home_mean, food_home_d1, food_home_d10),
     [0.05, 0.10, 0.15, 0.20, 0.25, 0.30], ["0.05", "", "0.15", "", "0.25", ""], [0.04, 0.31], "top"),
    ("Food Away", (food_away_mean, food_away_d1, food_away_d10),
     [0.02, 0.04, 0.06, 0.08, 0.10], ["0.02", "0.04", "0.06", "0.08", "0.10"], [0.0168, 0.1032], "bottom"),
    ("Alcoholic Beverages", (alcohol_mean, alcohol_d1, alcohol_d10),
     [0.005, 0.010, 0.015, 0.020, 0.025], ["0.005", "", "0.015", "", "0.025"], [0.0042, 0.0258], "top"),
    ("Shelter", (shelter_mean, shelter_d1, shelter_d10),
     [0.20, 0.25, 0.30, 0.35], ["0.20", "0.25", "0.30", "0.35"], [0.194, 0.356], "top"),
    ("Apparel", (apparel_mean, apparel_d1, apparel_d10),
     [0.0, 0.02, 0.04, 0.06, 0.08, 0.10], ["0.00", "", "0.04", "", "0.08", ""], [-0.004, 0.104], "top"),
    ("Household", (household_mean, household_d1, household_d10),
     [0.0, 0.02, 0.04, 0.06, 0.08], ["0.00", "0.02", "0.04", "0.06", "0.08"], [-0.0032, 0.0832], "top"),
    ("Utilities", (utilities_mean, utilities_d1, utilities_d10),
     [0.04, 0.06, 0.08, 0.10, 0.12], ["0.04", "0.06", "0.08", "0.10", "0.12"], [0.0368, 0.1232], "top"),
    ("Vehicles", (vehicles_mean, vehicles_d1, vehicles_d10),
     [0.0, 0.02, 0.04, 0.06, 0.08, 0.10], ["0.00", "", "0.04", "", "0.08", ""], [-0.004, 0.104], "top"),
    ("Vehicles Other", (veh_other_mean, veh_other_d1, veh_other_d10),
     [0.0, 0.02, 0.04, 0.06, 0.08, 0.10, 0.12], ["0.00", "", "0.04", "", "0.08", "", "0.12"], [-0.0048, 0.1248], "top"),
    ("Gasoline", (gasoline_mean, gasoline_d1, gasoline_d10),
     [0.02, 0.04, 0.06, 0.08, 0.10], ["0.02", "", "0.06", "", "0.10"], [0.0164, 0.1136], "top"),
]

# ---------------- layout geometry (pixels) ----------------
W, H = 1116, 1695
SERIF = "Liberation Serif, Times New Roman, serif"
COLORS = ["#000000", "#FF0000", "#00FF00"]
BOX = [  # x0, x1, y_top, y_bottom of each plot box
    (121.7, 537.7, 34.3, 290.7), (697.3, 1113.3, 34.3, 290.7),
    (121.7, 537.7, 370.3, 626.7), (697.3, 1113.3, 370.3, 626.7),
    (121.7, 537.7, 709.0, 965.0), (697.3, 1113.3, 709.0, 965.0),
    (121.7, 537.7, 1045.0, 1301.7), (697.3, 1113.3, 1045.0, 1301.7),
    (113.3, 529.3, 1383.7, 1640.7), (689.3, 1105.3, 1383.7, 1640.7),
]


def fx(p):
    return p / W


def fy(p):
    return 1 - p / H


fig = go.Figure()
shapes, annotations, axes = [], [], {}
axis_common = dict(
    automargin=False,
    showline=True, mirror=True, linecolor="#000000", linewidth=1,
    ticks="outside", ticklen=13, tickwidth=1, tickcolor="#000000",
    showgrid=True, gridcolor="#D3D3D3", gridwidth=1, griddash="3px,4px",
    zeroline=False, tickfont=dict(family=SERIF, size=26, color="#000000"),
)

for k, (title, series, ytv, ytt, yr, lpos) in enumerate(panels):
    n = k + 1
    suffix = "" if n == 1 else str(n)
    xa, ya = "x" + suffix, "y" + suffix
    x0, x1, yt, yb = BOX[k]

    for vals, color, name in zip(series, COLORS, series_names):
        fig.add_trace(go.Scatter(
            x=quarters[:len(vals)], y=vals, mode="lines", name=name,
            line=dict(color=color, width=1.1), xaxis=xa, yaxis=ya,
            showlegend=False,
        ))

    axes["xaxis" + suffix] = dict(
        axis_common, domain=[fx(x0), fx(x1)], anchor=ya, range=[1993.01, 2019.74],
        tickvals=x_tick_years, ticktext=[str(v) for v in x_tick_years],
        ticklabelstandoff=1,
    )
    axes["yaxis" + suffix] = dict(
        axis_common, domain=[fy(yb), fy(yt)], anchor=xa, range=yr,
        tickvals=ytv, ticktext=ytt, tickangle=-90, ticklabelstandoff=7,
    )

    # panel title
    annotations.append(dict(
        text="<b>%s</b>" % title, x=fx((x0 + x1) / 2), y=fy(yt), xref="paper", yref="paper",
        xanchor="center", yanchor="bottom", yshift=-3, showarrow=False,
        font=dict(family=SERIF, size=32, color="#000000"),
    ))
    # y-axis title
    annotations.append(dict(
        text="Relative Importance", x=fx(x0 - 94.7), y=fy((yt + yb) / 2), xref="paper", yref="paper",
        xanchor="center", yanchor="middle", textangle=-90, showarrow=False,
        font=dict(family=SERIF, size=26, color="#000000"),
    ))

    # legend box
    lw, lh = 126.0, 52.5
    lx0, lx1 = x1 - lw, x1
    if lpos == "top":
        ly0 = yt
    else:
        ly0 = yb - lh
    shapes.append(dict(type="rect", xref="paper", yref="paper",
                       x0=fx(lx0), x1=fx(lx1), y0=fy(ly0 + lh), y1=fy(ly0),
                       line=dict(color="#000000", width=1), fillcolor="#FFFFFF", layer="above"))
    for j, (color, name) in enumerate(zip(COLORS, series_names)):
        ry = ly0 + 12.6 + 13.3 * j
        shapes.append(dict(type="line", xref="paper", yref="paper",
                           x0=fx(lx0 + 9.3), x1=fx(lx0 + 30.0), y0=fy(ry), y1=fy(ry),
                           line=dict(color=color, width=1.1), layer="above"))
        annotations.append(dict(
            text=name, x=fx(lx0 + 39.3), y=fy(ry), xref="paper", yref="paper",
            xanchor="left", yanchor="middle", showarrow=False,
            font=dict(family=SERIF, size=13, color="#000000"),
        ))

fig.update_layout(
    width=W, height=H, margin=dict(l=0, r=0, t=0, b=0, autoexpand=False),
    paper_bgcolor="#FFFFFF", plot_bgcolor="#FFFFFF", showlegend=False,
    font=dict(family=SERIF, color="#000000"),
    shapes=shapes, annotations=annotations, **axes,
)

fig.write_html("out.html", config={"displayModeBar": False},
               post_script="document.body.style.margin='0';document.body.style.overflow='hidden';")
